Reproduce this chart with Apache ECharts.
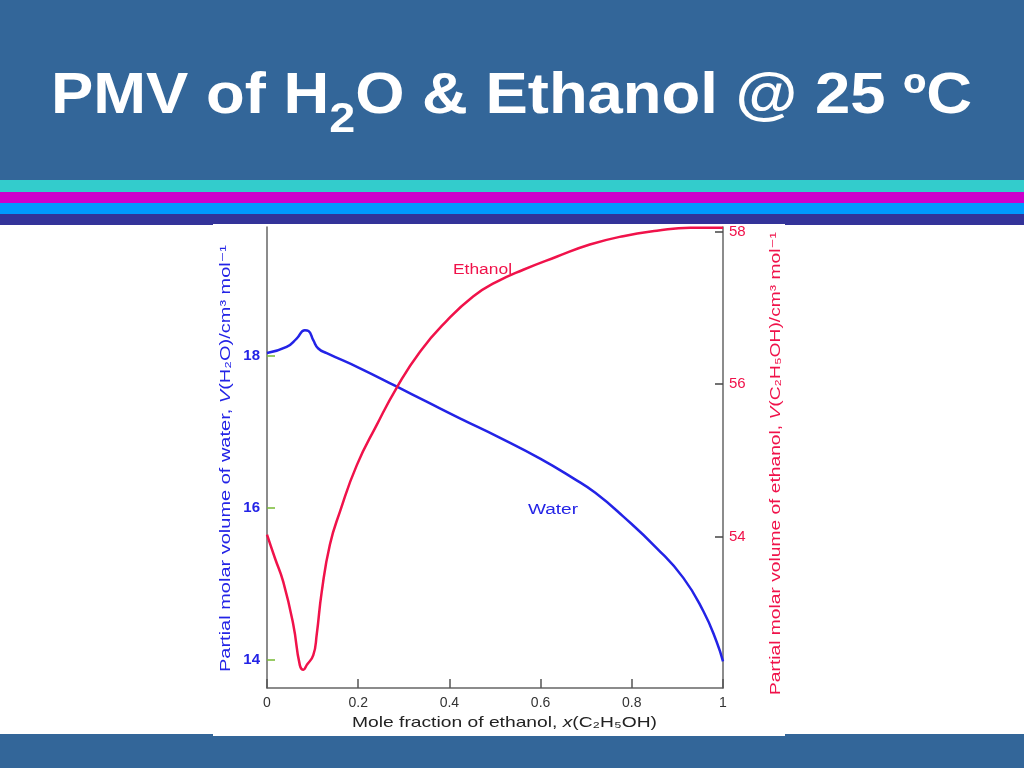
<!DOCTYPE html>
<html>
<head>
<meta charset="utf-8">
<script src="https://cdn.jsdelivr.net/npm/echarts@6/dist/echarts.min.js"></script>
<style>
html,body{margin:0;padding:0;background:#fff;}
#c{width:1024px;height:768px;}
</style>
</head>
<body>
<div id="c"></div>
<script>
// ---- data ----
const waterX = [0, 0.043, 0.065, 0.083, 0.091, 0.1015, 0.1125, 0.131, 0.204, 0.284, 0.35, 0.423, 0.509, 0.599, 0.672, 0.72, 0.781, 0.855, 0.913, 0.957, 0.986, 1];
const waterV = [18.04, 18.12, 18.23, 18.34, 18.33, 18.21, 18.10, 18.04, 17.84, 17.60, 17.40, 17.18, 16.93, 16.65, 16.39, 16.20, 15.89, 15.47, 15.08, 14.64, 14.24, 13.98];
const ethanolX = [0, 0.0175, 0.0357, 0.0577, 0.072, 0.08, 0.087, 0.1015, 0.109, 0.12, 0.138, 0.16, 0.197, 0.241, 0.284, 0.336, 0.394, 0.452, 0.5, 0.562, 0.635, 0.708, 0.781, 0.855, 0.928, 1];
const ethanolV = [54.03, 53.72, 53.41, 52.85, 52.32, 52.26, 52.32, 52.45, 52.72, 53.28, 53.90, 54.33, 54.94, 55.47, 55.95, 56.43, 56.83, 57.15, 57.33, 57.50, 57.67, 57.83, 57.94, 58.01, 58.05, 58.05];
const xTicks = [0, 0.2, 0.4, 0.6, 0.8, 1];
const waterTicks = [14, 16, 18];
const ethanolTicks = [54, 56, 58];

const FONT = 'Liberation Sans, Arial, DejaVu Sans, sans-serif';
const BLUE = '#2323e6';
const RED = '#f0124a';

const chart = echarts.init(document.getElementById('c'), null, {renderer: 'canvas'});

// measure title pieces for subscript placement
const cv = document.createElement('canvas').getContext('2d');
const TF = 57, SF = 42;
cv.font = 'bold ' + TF + 'px ' + FONT;
const t1 = 'PMV of H', t3 = 'O & Ethanol @ 25 ºC';
const w1 = cv.measureText(t1).width;
const w3 = cv.measureText(t3).width;
cv.font = 'bold ' + SF + 'px ' + FONT;
const w2 = cv.measureText('2').width;
const titleSX = 921 / (w1 + w2 + w3);

// stretched annotation text helper
function stretchedText(str, rich, size, targetLen, cx, cy, rot) {
  const plain = str.replace(/\{\w+\|/g, '').replace(/\}/g, '');
  cv.font = size + 'px ' + FONT;
  const len = cv.measureText(plain).width;
  return {
    type: 'text', x: cx, y: cy, rotation: rot || 0, scaleX: targetLen / len,
    style: {text: str, rich: rich, align: 'center', verticalAlign: 'middle', font: size + 'px ' + FONT}
  };
}
const richOf = (color, size) => ({
  n: {fontSize: size, fill: color, color: color, fontFamily: FONT},
  i: {fontSize: size, fill: color, color: color, fontStyle: 'italic', fontFamily: FONT}
});

const pairs = (xs, ys) => xs.map((x, i) => [x, ys[i]]);

chart.setOption({
  backgroundColor: '#ffffff',
  animation: false,
  graphic: [
    {type: 'rect', shape: {x: 0, y: 0, width: 1024, height: 180}, style: {fill: '#336699'}, z: -10},
    {type: 'rect', shape: {x: 0, y: 180, width: 1024, height: 12}, style: {fill: '#33cccc'}, z: -10},
    {type: 'rect', shape: {x: 0, y: 192, width: 1024, height: 11}, style: {fill: '#cc00cc'}, z: -10},
    {type: 'rect', shape: {x: 0, y: 203, width: 1024, height: 11}, style: {fill: '#0099ff'}, z: -10},
    {type: 'rect', shape: {x: 0, y: 214, width: 1024, height: 11}, style: {fill: '#333399'}, z: -10},
    {type: 'rect', shape: {x: 0, y: 734, width: 1024, height: 34}, style: {fill: '#336699'}, z: -10},
    {type: 'rect', shape: {x: 213, y: 224, width: 572, height: 512}, style: {fill: '#ffffff'}, z: -9},
    {type: 'group', x: 51, y: 0, scaleX: titleSX, children: [
      {type: 'text', x: 0, y: 97.5, style: {text: t1, font: 'bold ' + TF + 'px ' + FONT, fill: '#ffffff', verticalAlign: 'middle'}},
      {type: 'text', x: w1, y: 120, style: {text: '2', font: 'bold ' + SF + 'px ' + FONT, fill: '#ffffff', verticalAlign: 'middle'}},
      {type: 'text', x: w1 + w2, y: 97.5, style: {text: t3, font: 'bold ' + TF + 'px ' + FONT, fill: '#ffffff', verticalAlign: 'middle'}}
    ]},
    Object.assign(stretchedText('Ethanol', null, 14, 59, 482.5, 270, 0), {style: {text: 'Ethanol', font: '14px ' + FONT, fill: RED, align: 'center', verticalAlign: 'middle'}}),
    Object.assign(stretchedText('Water', null, 14, 50, 553, 510, 0), {style: {text: 'Water', font: '14px ' + FONT, fill: BLUE, align: 'center', verticalAlign: 'middle'}}),
    stretchedText('{n|Mole fraction of ethanol, }{i|x}{n|(C₂H₅OH)}', richOf('#222222', 15), 15, 305, 504.5, 723, 0),
    stretchedText('{n|Partial molar volume of water, }{i|V}{n|(H₂O)/cm³ mol⁻¹}', richOf(BLUE, 15), 15, 427, 226, 458.5, Math.PI / 2),
    stretchedText('{n|Partial molar volume of ethanol, }{i|V}{n|(C₂H₅OH)/cm³ mol⁻¹}', richOf(RED, 15), 15, 463, 776, 463.5, Math.PI / 2)
  ],
  grid: {left: 267, right: 301, top: 227, bottom: 80, containLabel: false},
  xAxis: {
    type: 'value', min: 0, max: 1, interval: 0.2,
    axisLine: {show: true, lineStyle: {color: '#666', width: 1.5}},
    axisTick: {show: true, inside: true, length: 9, lineStyle: {color: '#555', width: 1.5}},
    axisLabel: {color: '#333', fontSize: 14, fontFamily: FONT, margin: 8, formatter: v => String(+v.toFixed(1))},
    splitLine: {show: false}
  },
  yAxis: [
    {
      type: 'value', position: 'left', min: 13.63, max: 19.70,
      axisLine: {show: true, lineStyle: {color: '#666', width: 1.5}},
      axisTick: {show: true, inside: true, length: 8, lineStyle: {color: '#77bb33', width: 1.5}, customValues: waterTicks},
      axisLabel: {color: BLUE, fontSize: 15, fontWeight: 'bold', fontFamily: FONT, margin: 7, customValues: waterTicks},
      splitLine: {show: false}
    },
    {
      type: 'value', position: 'right', min: 52.02, max: 58.06,
      axisLine: {show: true, lineStyle: {color: '#666', width: 1.5}},
      axisTick: {show: true, inside: true, length: 8, lineStyle: {color: '#444', width: 1.5}, customValues: ethanolTicks},
      axisLabel: {color: RED, fontSize: 15, fontFamily: FONT, margin: 6, customValues: ethanolTicks},
      splitLine: {show: false}
    }
  ],
  series: [
    {name: 'Water', type: 'line', yAxisIndex: 0, data: pairs(waterX, waterV), showSymbol: false, smooth: 0.5, lineStyle: {color: BLUE, width: 2.5}, itemStyle: {color: BLUE}},
    {name: 'Ethanol', type: 'line', yAxisIndex: 1, data: pairs(ethanolX, ethanolV), showSymbol: false, smooth: 0.5, lineStyle: {color: RED, width: 2.5}, itemStyle: {color: RED}}
  ]
});
</script>
</body>
</html>
